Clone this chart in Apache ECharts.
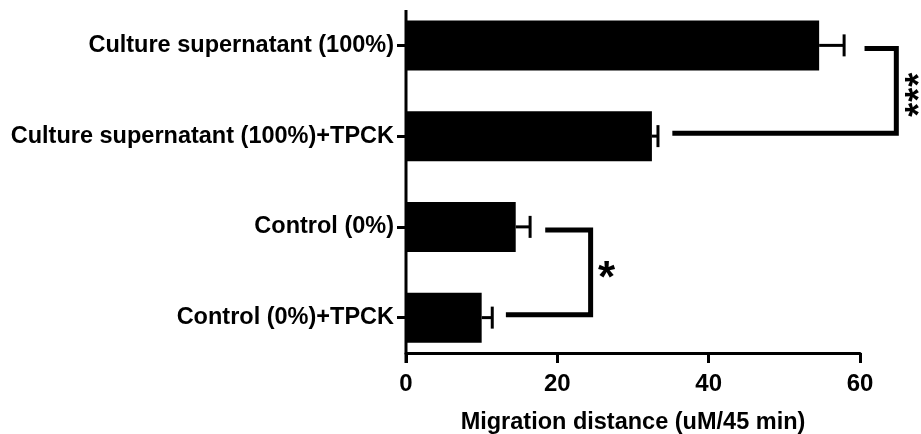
<!DOCTYPE html>
<html>
<head>
<meta charset="utf-8">
<script src="https://cdn.jsdelivr.net/npm/echarts@6/dist/echarts.min.js"></script>
<style>html,body{margin:0;padding:0;background:#fff;}#c{width:921px;height:434px;}</style>
</head>
<body>
<div id="c"></div>
<script>
const categories = ['Culture supernatant (100%)', 'Culture supernatant (100%)+TPCK', 'Control (0%)', 'Control (0%)+TPCK'];
const means = [54.6, 32.5, 14.5, 10.0];
const errHigh = [57.9, 33.3, 16.4, 11.4];
const xTicks = [0, 20, 40, 60];
const axisTitle = 'Migration distance (uM/45 min)';
// brackets: [fromCategory, toCategory, bracketX, fromArmStart, toArmStart]
const bracketPairs = [[0, 1, 64.8, 60.6, 35.2], [2, 3, 24.4, 18.4, 13.2]];
const bracketLabels = ['***', '*'];

const FONT = '"Liberation Sans", Arial, sans-serif';
const chart = echarts.init(document.getElementById('c'));

const errData = means.map((m, i) => [i, m, errHigh[i]]);

chart.setOption({
  animation: false,
  backgroundColor: '#fff',
  grid: { left: 406, right: 61, top: 0, bottom: 71, outerBoundsMode: 'none', containLabel: false },
  xAxis: {
    type: 'value', min: xTicks[0], max: xTicks[xTicks.length - 1], interval: 20,
    offset: -10,
    splitLine: { show: false },
    axisLine: { show: true, lineStyle: { color: '#000', width: 3 } },
    axisTick: { show: true, length: 10, lineStyle: { color: '#000', width: 3 } },
    axisLabel: { color: '#000', fontFamily: FONT, fontWeight: 'bold', fontSize: 24, margin: 19 },
    name: axisTitle, nameLocation: 'middle', nameGap: 58,
    nameTextStyle: { color: '#000', fontFamily: FONT, fontWeight: 'bold', fontSize: 23.5 }
  },
  yAxis: {
    type: 'category', data: categories, inverse: true,
    axisLine: { show: false },
    axisTick: { show: true, alignWithLabel: true, length: 9, lineStyle: { color: '#000', width: 3 } },
    axisLabel: { color: '#000', fontFamily: FONT, fontWeight: 'bold', fontSize: 23.5, margin: 12 }
  },
  series: [
    {
      type: 'bar', data: means, barWidth: 50,
      itemStyle: { color: '#000' }
    },
    {
      // y axis line (starts a little below the top of the plot, runs to the bottom as the 0 tick)
      type: 'custom', data: [[0]], clip: false, z: 4, silent: true,
      renderItem: function (params, api) {
        const cs = params.coordSys;
        const x0 = api.coord([0, 0])[0];
        return {
          type: 'line',
          shape: { x1: x0, y1: cs.y + 10, x2: x0, y2: cs.y + cs.height },
          style: { stroke: '#000', lineWidth: 3 }
        };
      }
    },
    {
      type: 'custom', data: errData, clip: false, z: 3,
      renderItem: function (params, api) {
        const c = api.value(0);
        const p0 = api.coord([api.value(1), c]);
        const p1 = api.coord([api.value(2), c]);
        const style = { stroke: '#000', lineWidth: 3 };
        return {
          type: 'group',
          children: [
            { type: 'line', shape: { x1: p0[0], y1: p0[1], x2: p1[0], y2: p1[1] }, style: style },
            { type: 'line', shape: { x1: p1[0], y1: p1[1] - 11, x2: p1[0], y2: p1[1] + 11 }, style: style }
          ]
        };
      }
    },
    {
      type: 'custom', data: bracketPairs, clip: false, z: 3,
      renderItem: function (params, api) {
        const a = api.value(0), b = api.value(1);
        const xb = api.value(2), sa = api.value(3), sb = api.value(4);
        const pTopStart = api.coord([sa, a]);
        const pTopEnd = api.coord([xb, a]);
        const pBotEnd = api.coord([xb, b]);
        const pBotStart = api.coord([sb, b]);
        const label = bracketLabels[params.dataIndex];
        const yTop = pTopEnd[1] + 3, yBot = pBotEnd[1] - 3;
        const midY = (yTop + yBot) / 2;
        const children = [{
          type: 'polyline',
          shape: { points: [[pTopStart[0], yTop], [pTopEnd[0], yTop], [pBotEnd[0], yBot], [pBotStart[0], yBot]] },
          style: { stroke: '#000', lineWidth: 5, fill: null, lineJoin: 'miter' }
        }];
        const n = label.length;
        if (n > 1) {
          for (let k = 0; k < n; k++) {
            children.push({
              type: 'text',
              x: pTopEnd[0] + 25,
              y: midY + (k - (n - 1) / 2) * 15 + 4,
              rotation: Math.PI / 2,
              style: { text: label[k], fill: '#000', fontFamily: FONT, fontWeight: 'bold', fontSize: 36, align: 'center', verticalAlign: 'middle' }
            });
          }
        } else {
          children.push({
            type: 'text', x: pTopEnd[0] + 16, y: midY + 8,
            style: { text: label, fill: '#000', fontFamily: FONT, fontWeight: 'bold', fontSize: 44, align: 'center', verticalAlign: 'middle' }
          });
        }
        return { type: 'group', children: children };
      }
    }
  ]
});
</script>
</body>
</html>
